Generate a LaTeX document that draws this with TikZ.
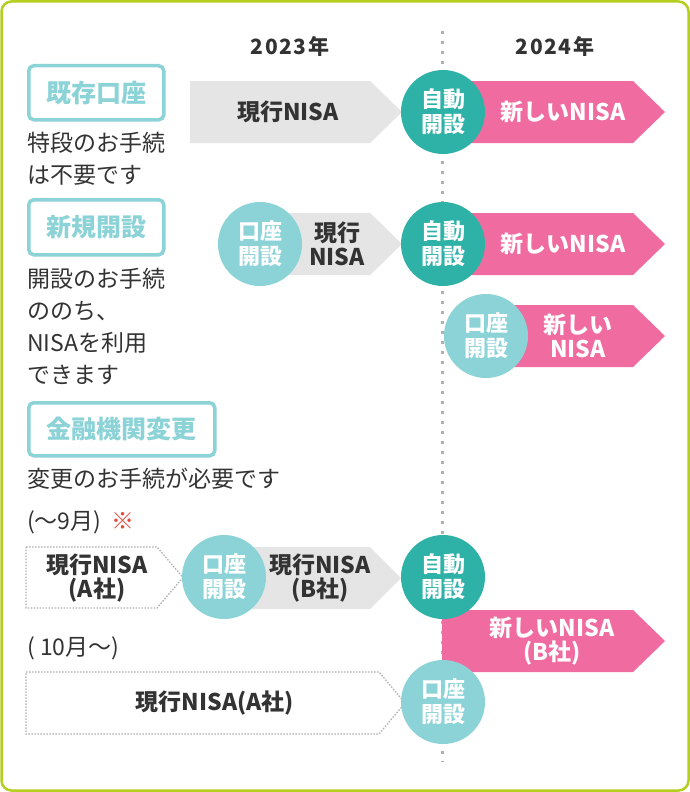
\documentclass[tikz,border=0pt]{standalone}
\usepackage{fontspec}
\setmainfont{Noto Sans CJK JP}
\definecolor{framegreen}{HTML}{B4CF1F}
\definecolor{tealc}{HTML}{2EB2A8}
\definecolor{lightc}{HTML}{8CD3D7}
\definecolor{pinkc}{HTML}{F06BA0}
\definecolor{grayarrow}{HTML}{E5E5E5}
\definecolor{dotgray}{HTML}{B0B0B0}
\definecolor{txt}{HTML}{333333}
\definecolor{notered}{HTML}{E8473A}
\tikzset{
  frame/.style={draw=framegreen, line width=2.5pt, rounded corners=10pt},
  vline/.style={draw=dotgray, line width=3pt, dash pattern=on 3pt off 7pt},
  outline/.style={draw=dotgray, line width=1.3pt, dash pattern=on 1.5pt off 1.5pt},
  grayfill/.style={fill=grayarrow},
  pinkfill/.style={fill=pinkc},
  circbase/.style={circle, minimum size=84pt, inner sep=0pt, align=center, text=white,
    font=\fontsize{22}{25}\selectfont\bfseries},
  autoc/.style={circbase, fill=tealc},
  openc/.style={circbase, fill=lightc},
  lab/.style={draw=lightc, line width=3.5pt, rounded corners=5pt, text=lightc,
    font=\fontsize{25}{28}\selectfont\bfseries, inner sep=0pt, anchor=north west},
  desc/.style={anchor=west, align=left, text=txt, inner sep=0pt,
    font=\fontsize{23}{32}\selectfont},
  year/.style={text=txt, font=\fontsize{21}{24}\selectfont\bfseries\addfontfeatures{LetterSpace=8}},
  atxt/.style={text=txt, align=center, inner sep=0pt, font=\fontsize{23}{24}\selectfont\bfseries},
  ptxt/.style={text=white, align=center, inner sep=0pt, font=\fontsize{23}{24}\selectfont\bfseries},
}
\begin{document}
\begin{tikzpicture}[x=1pt,y=-1pt]
\useasboundingbox (0,0) rectangle (690,792);
\fill[white] (0,0) rectangle (690,792);
\draw[frame] (1.5,1.5) rectangle (688.5,790.5);

% dotted year divider
\coordinate (vtop) at (442,31);
\coordinate (vbot) at (442,762);
\draw[vline] (vtop) -- (vbot);

% years
\node[year] (y2023) at (290,46) {2023年};
\node[year] (y2024) at (555,46) {2024年};

% ---------- row 1
\node[lab, minimum width=135pt, minimum height=54pt] (lab1) at (27,64) {既存口座};
\node[desc] (desc1) at (27,159) {特段のお手続\\は不要です};
\fill[grayfill] (190,81) -- (370,81) -- (402,112) -- (370,143) -- (190,143) -- cycle;
\fill[pinkfill] (470,81) -- (633,81) -- (665,112) -- (633,143) -- (470,143) -- cycle;
\node[atxt] (cur1) at (288,112) {現行NISA};
\node[ptxt] (new1) at (563,112) {新しいNISA};
\node[autoc] (auto1) at (443,112) {自動\\開設};

% ---------- row 2
\node[lab, minimum width=135pt, minimum height=55pt] (lab2) at (27,198) {新規開設};
\node[desc] (desc2) at (27,326) {開設のお手続\\ののち、\\NISAを利用\\できます};
\fill[grayfill] (260,213) -- (370,213) -- (402,244) -- (370,275) -- (260,275) -- cycle;
\fill[pinkfill] (470,213) -- (633,213) -- (665,244) -- (633,275) -- (470,275) -- cycle;
\fill[pinkfill] (486,305) -- (633,305) -- (665,336) -- (633,367) -- (486,367) -- cycle;
\node[atxt] (cur2) at (337,244) {現行\\NISA};
\node[ptxt] (new2) at (563,244) {新しいNISA};
\node[ptxt] (new2b) at (578,336) {新しい\\NISA};
\node[openc] (open2) at (260,244) {口座\\開設};
\node[autoc] (auto2) at (443,244) {自動\\開設};
\node[openc] (open2b) at (486,336) {口座\\開設};

% ---------- row 3
\node[lab, minimum width=186pt, minimum height=53pt] (lab3) at (27,401) {金融機関変更};
\node[desc] (desc3) at (27,479) {変更のお手続が必要です};
\node[desc] (sep) at (27,522) {(～9月)\ \ \textcolor{notered}{※}};
\draw[outline] (26,547) -- (157,547) -- (183,577.5) -- (157,608) -- (26,608) -- cycle;
\fill[grayfill] (224,547) -- (370,547) -- (401,578) -- (370,609) -- (224,609) -- cycle;
\fill[pinkfill] (442,610) -- (633,610) -- (665,641) -- (633,672) -- (442,672) -- cycle;
\node[atxt] (curA) at (97,578) {現行NISA\\(A社)};
\node[atxt] (curB) at (320,578) {現行NISA\\(B社)};
\node[ptxt] (newB) at (552,641) {新しいNISA\\(B社)};
\node[openc] (open3) at (224,577) {口座\\開設};
\node[autoc] (auto3) at (443,577) {自動\\開設};

% ---------- row 4
\node[desc] (oct) at (27,648) {( 10月～)};
\draw[outline] (26,672) -- (379,672) -- (405,703) -- (379,734) -- (26,734) -- cycle;
\node[atxt] (curA2) at (215,703) {現行NISA(A社)};
\node[openc] (open4) at (443,702) {口座\\開設};
\end{tikzpicture}
\end{document}
